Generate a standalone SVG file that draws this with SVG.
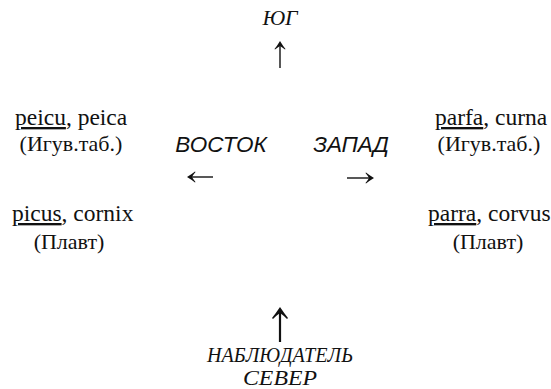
<svg xmlns="http://www.w3.org/2000/svg" width="551" height="389" viewBox="0 0 551 389">
<style>
.s{font-family:"Liberation Serif","Times New Roman","DejaVu Serif",serif;font-size:22px;fill:#111}
.l{font-size:23.5px}
.i{font-style:italic}
.a{font-family:"Liberation Sans",Arial,"DejaVu Sans",sans-serif;font-style:italic;font-size:22.5px;fill:#111}
.u{text-decoration:underline}
.ln{stroke:#111;fill:none}
.hd{fill:#111;stroke:none}
</style>
<rect width="551" height="389" fill="#fff"/>
<g id="south"><text class="s i" x="280" y="25" text-anchor="middle">ЮГ</text></g>
<g id="east-igv"><text class="s l" x="15" y="125"><tspan class="u">peicu</tspan>, peica</text><text class="s" x="71" y="151" text-anchor="middle">(Игув.таб.)</text></g>
<g id="west-igv"><text class="s l" x="435" y="125"><tspan class="u">parfa</tspan>, curna</text><text class="s" x="489" y="151" text-anchor="middle">(Игув.таб.)</text></g>
<g id="east-plaut"><text class="s l" x="12" y="221"><tspan class="u">picus</tspan>, cornix</text><text class="s" x="69" y="249" text-anchor="middle">(Плавт)</text></g>
<g id="west-plaut"><text class="s l" x="428" y="221"><tspan class="u">parra</tspan>, corvus</text><text class="s" x="488" y="249" text-anchor="middle">(Плавт)</text></g>
<g id="east"><text class="a" x="221" y="152" text-anchor="middle">ВОСТОК</text></g>
<g id="west"><text class="a" x="351" y="152" text-anchor="middle">ЗАПАД</text></g>
<g id="north"><text class="s i" x="280" y="362" text-anchor="middle" font-size="18" textLength="146" lengthAdjust="spacingAndGlyphs">НАБЛЮДАТЕЛЬ</text><text class="s i" x="280" y="385" text-anchor="middle" font-size="21" textLength="74" lengthAdjust="spacingAndGlyphs">СЕВЕР</text></g>
<g id="connectors">
<line class="ln" x1="280" y1="45" x2="280" y2="68" stroke-width="1.4"/>
<path class="hd" d="M280,41 Q283,46 285.5,49 L285,49.5 Q282,47 280,46 Q278,47 275,49.5 L274.5,49 Q277,46 280,41 Z"/>
<line class="ln" x1="191" y1="177" x2="213" y2="177" stroke-width="1.4"/>
<path class="hd" d="M187,177 Q192,174 195,171.5 L195.5,172 Q193,175 192,177 Q193,179 195.5,182 L195,182.5 Q192,180 187,177 Z"/>
<line class="ln" x1="347" y1="178" x2="370" y2="178" stroke-width="1.4"/>
<path class="hd" d="M374,178 Q369,175 366,172.5 L365.5,173 Q368,176 369,178 Q368,180 365.5,183 L366,183.5 Q369,181 374,178 Z"/>
<line class="ln" x1="280" y1="312" x2="280" y2="342" stroke-width="2.2"/>
<path class="hd" d="M280,307 Q284,313 288,318 L287,319 Q283,315 280,313 Q277,315 273,319 L272,318 Q276,313 280,307 Z"/>
</g>
</svg>
